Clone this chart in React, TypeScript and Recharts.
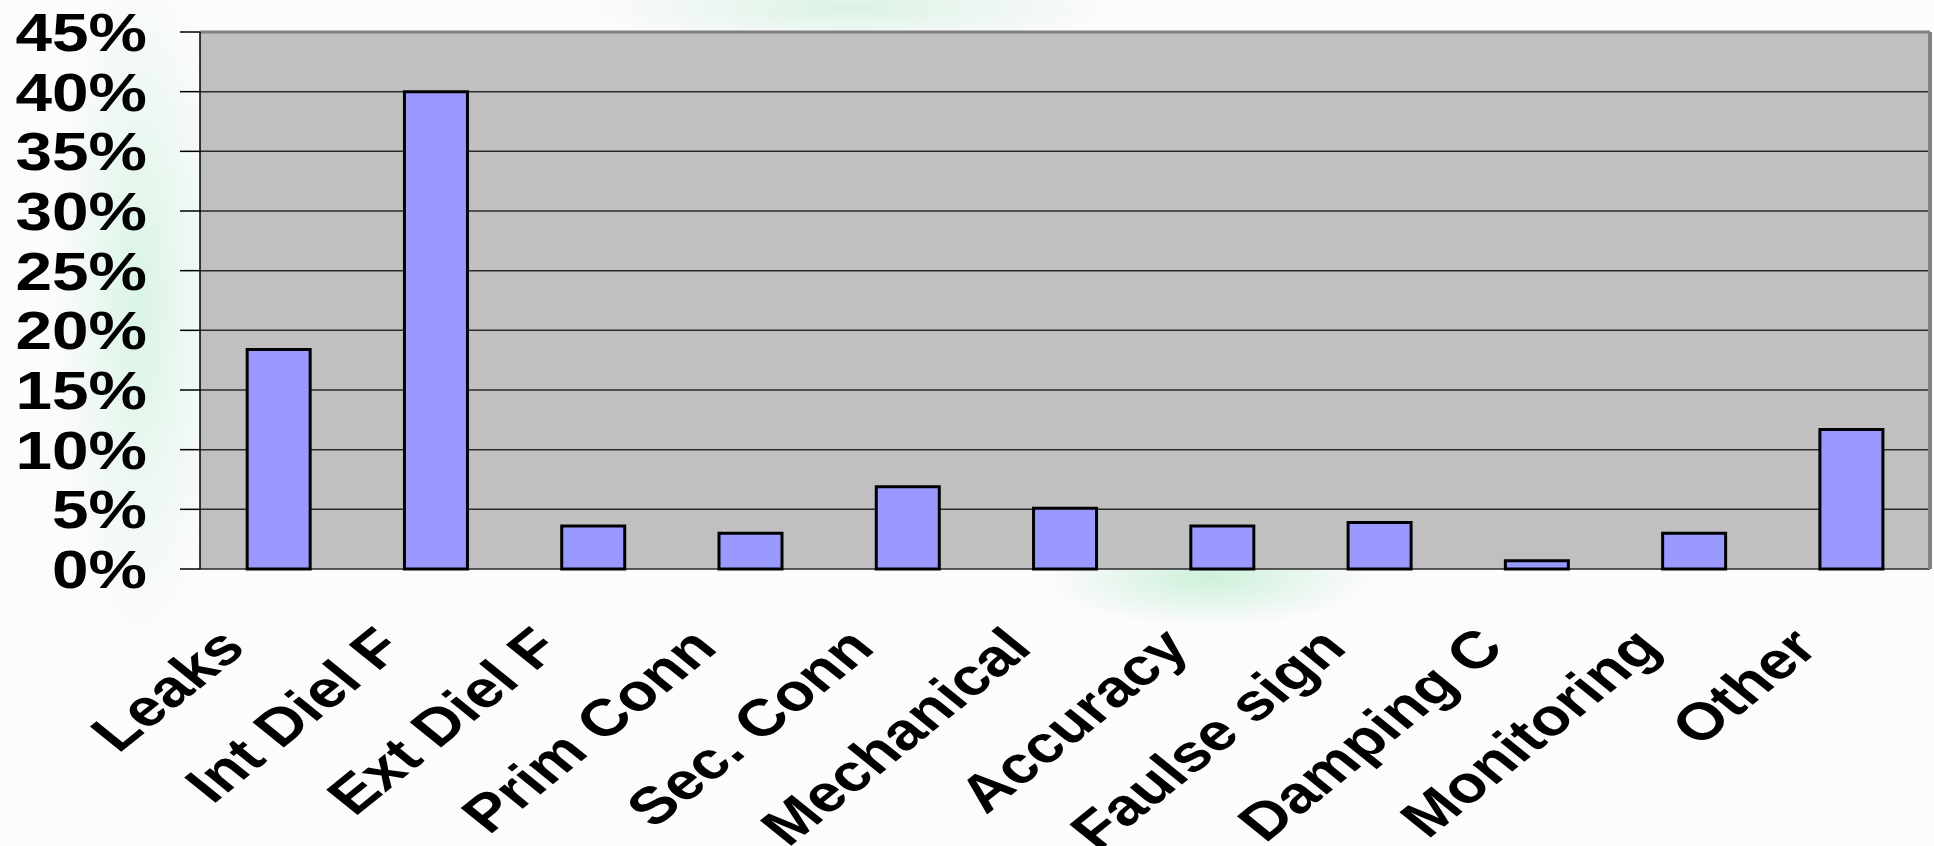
import { BarChart, Bar, XAxis, YAxis, CartesianGrid, ReferenceLine } from 'recharts'

const categories = ['Leaks', 'Int Diel F', 'Ext Diel F', 'Prim Conn', 'Sec. Conn', 'Mechanical', 'Accuracy', 'Faulse sign', 'Damping C', 'Monitoring', 'Other']
const shares = [0.184, 0.40, 0.036, 0.030, 0.069, 0.051, 0.036, 0.039, 0.007, 0.030, 0.117]
const yTicks = [0, 0.05, 0.1, 0.15, 0.2, 0.25, 0.3, 0.35, 0.4, 0.45]
const boundaryTicks = [0, 1, 2, 3, 4, 5, 6, 7, 8, 9, 10, 11]

const data = categories.map((name, i) => ({ name, value: shares[i] }))

const FONT = '"Liberation Sans", Arial, sans-serif'
// the source picture is stretched sideways, so the text is too
const STRETCH = 1.24

const PctTick = ({ x, y, payload }: any) => (
  <g transform={`translate(${x},${y}) scale(${STRETCH},1)`}>
    <text textAnchor="end" dy="0.36em" fontSize={53} fontWeight="bold" fontFamily={FONT} fill="#000">
      {Math.round(payload.value * 100)}%
    </text>
  </g>
)

const CatTick = ({ x, y, payload }: any) => (
  <g transform={`translate(${x - 31},${y + 81}) scale(${STRETCH},1) rotate(-45)`}>
    <text textAnchor="end" fontSize={52} fontWeight="bold" fontFamily={FONT} fill="#000">
      {payload.value}
    </text>
  </g>
)

export default function App() {
  return (
    <div
      style={{
        position: 'absolute',
        left: 0,
        top: 0,
        width: 1934,
        height: 846,
        background:
          'radial-gradient(ellipse 90px 360px at 140px 300px, rgba(205,242,220,0.75), rgba(205,242,220,0) 100%),' +
          'radial-gradient(ellipse 280px 40px at 850px 8px, rgba(210,240,222,0.8), rgba(210,240,222,0) 100%),' +
          'radial-gradient(ellipse 170px 50px at 1210px 578px, rgba(200,240,215,0.9), rgba(200,240,215,0) 100%),' +
          '#fefbfe',
      }}
    >
      <BarChart width={1934} height={846} data={data} margin={{ top: 32, right: 0, left: 0, bottom: 0 }} barCategoryGap="30%">
        <CartesianGrid horizontal vertical={false} fill="#c0c0c0" fillOpacity={1} stroke="#2a2a2a" strokeWidth={1.5} />
        <XAxis
          xAxisId="b"
          type="number"
          domain={[0, 11]}
          ticks={boundaryTicks}
          tick={false}
          tickSize={17}
          tickLine={{ stroke: '#000', strokeWidth: 1.5 }}
          axisLine={{ stroke: '#333', strokeWidth: 1.5 }}
          height={0}
        />
        <XAxis
          dataKey="name"
          interval={0}
          tick={<CatTick />}
          tickLine={false}
          axisLine={false}
          tickSize={0}
          tickMargin={0}
          height={277}
        />
        <YAxis
          domain={[0, 0.45]}
          ticks={yTicks}
          interval={0}
          width={200}
          tickSize={20}
          tickMargin={33}
          tick={<PctTick />}
          tickLine={{ stroke: '#000', strokeWidth: 1.5 }}
          axisLine={{ stroke: '#000', strokeWidth: 1.5 }}
        />
        <YAxis
          yAxisId="edge"
          orientation="right"
          width={4}
          tick={false}
          tickLine={false}
          axisLine={{ stroke: '#808080', strokeWidth: 4 }}
        />
        <ReferenceLine y={0.45} stroke="#808080" strokeWidth={3} />
        <Bar dataKey="value" fill="#9999ff" stroke="#000" strokeWidth={3} isAnimationActive={false} />
      </BarChart>
    </div>
  )
}
